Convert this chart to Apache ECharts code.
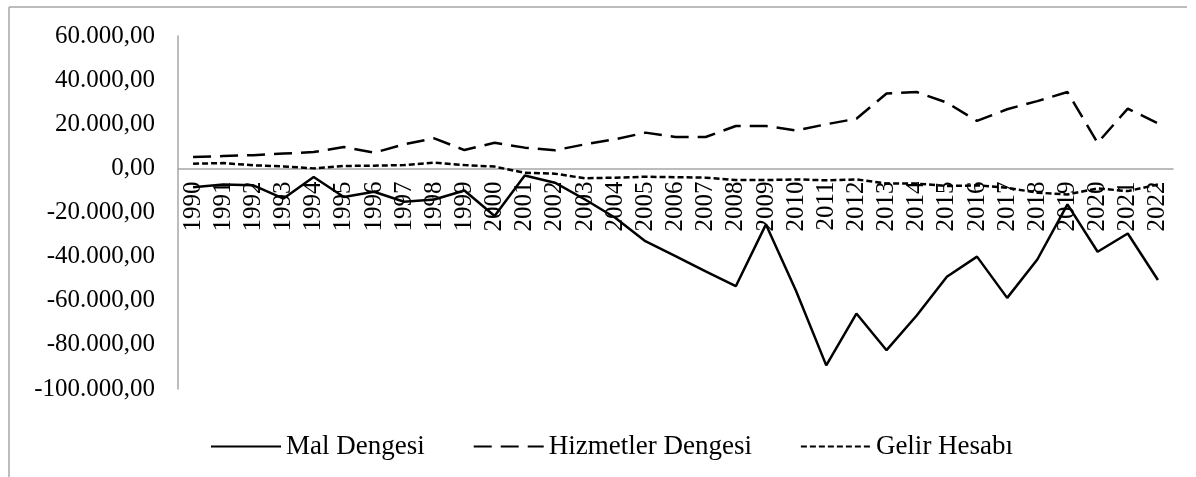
<!DOCTYPE html>
<html>
<head>
<meta charset="utf-8">
<script src="https://cdn.jsdelivr.net/npm/echarts@6/dist/echarts.min.js"></script>
<style>
  html, body { margin: 0; padding: 0; background: #fff; }
  #main { width: 1196px; height: 477px; }
</style>
</head>
<body>
<div id="main"></div>
<script>
var years = [];
for (var y = 1990; y <= 2022; y++) years.push(String(y));

var malDengesi = [-8600, -7300, -7700, -13700, -3900, -13000, -10600, -15100, -14100, -10000,
  -21600, -3200, -6500, -14100, -22400, -33000, -39800, -46700, -53400, -25400,
  -55600, -89300, -65800, -82400, -66700, -49100, -40000, -58700, -41300, -16300,
  -37800, -29500, -50600];

var hizmetlerDengesi = [5100, 5600, 6000, 6700, 7400, 9700, 7100, 10900, 13600, 8300,
  11600, 9400, 8200, 10900, 13200, 16200, 14200, 14200, 19200, 19200,
  17200, 20000, 22500, 33900, 34600, 29800, 21500, 26800, 30500, 34600,
  11600, 27100, 20400];

var gelirHesabi = [2100, 2400, 1400, 900, 0, 1100, 1200, 1500, 2600, 1500,
  800, -2000, -2400, -4500, -4200, -3800, -4000, -4200, -5300, -5300,
  -5000, -5400, -5000, -6900, -6900, -8000, -7700, -8800, -11000, -11800,
  -9100, -10300, -7300];

var font = "'Liberation Serif', 'Times New Roman', serif";

// 60.000,00 bicimi
function trFormat(v) {
  var neg = v < 0;
  var s = String(Math.abs(Math.round(v)));
  s = s.replace(/\B(?=(\d{3})+(?!\d))/g, '.');
  return (neg ? '-' : '') + s + ',00';
}

var chart = echarts.init(document.getElementById('main'));

var option = {
  backgroundColor: '#fff',
  animation: false,
  grid: { left: 178, right: 23, top: 36, bottom: 88 },
  legend: {
    left: 205,
    top: 428,
    itemWidth: 70,
    itemHeight: 14,
    itemGap: 48,
    itemStyle: { opacity: 0 },
    textStyle: { fontFamily: font, fontSize: 27, color: '#000' },
    data: ['Mal Dengesi', 'Hizmetler Dengesi', 'Gelir Hesabı']
  },
  xAxis: {
    type: 'category',
    data: years,
    boundaryGap: true,
    offset: -220.5,
    axisLine: { onZero: false, lineStyle: { color: '#a6a6a6', width: 1.5 } },
    axisTick: { show: false },
    axisLabel: {
      rotate: 90,
      interval: 0,
      margin: 13,
      fontFamily: font,
      fontSize: 25,
      color: '#000'
    }
  },
  yAxis: {
    type: 'value',
    min: -100000,
    max: 60000,
    interval: 20000,
    axisLine: { show: true, lineStyle: { color: '#a6a6a6', width: 1.5 } },
    axisTick: { show: false },
    splitLine: { show: false },
    axisLabel: {
      margin: 23,
      fontFamily: font,
      fontSize: 25,
      color: '#000',
      formatter: trFormat
    }
  },
  series: [
    {
      name: 'Mal Dengesi',
      type: 'line',
      data: malDengesi,
      symbol: 'none',
      z: 3,
      lineStyle: { color: '#000', width: 2.5, type: 'solid' },
      itemStyle: { color: '#000' }
    },
    {
      name: 'Hizmetler Dengesi',
      type: 'line',
      data: hizmetlerDengesi,
      symbol: 'none',
      lineStyle: { color: '#000', width: 2.5, type: [18, 9] },
      itemStyle: { color: '#000' }
    },
    {
      name: 'Gelir Hesabı',
      type: 'line',
      data: gelirHesabi,
      symbol: 'none',
      lineStyle: { color: '#000', width: 2.5, type: [6, 3] },
      itemStyle: { color: '#000' }
    }
  ],
  graphic: [
    { type: 'line', shape: { x1: 9, y1: 7, x2: 9, y2: 477 }, style: { stroke: '#a6a6a6', lineWidth: 1.5 } },
    { type: 'line', shape: { x1: 9, y1: 7, x2: 1187, y2: 7 }, style: { stroke: '#a6a6a6', lineWidth: 1.5 } }
  ]
};

chart.setOption(option);
</script>
</body>
</html>
